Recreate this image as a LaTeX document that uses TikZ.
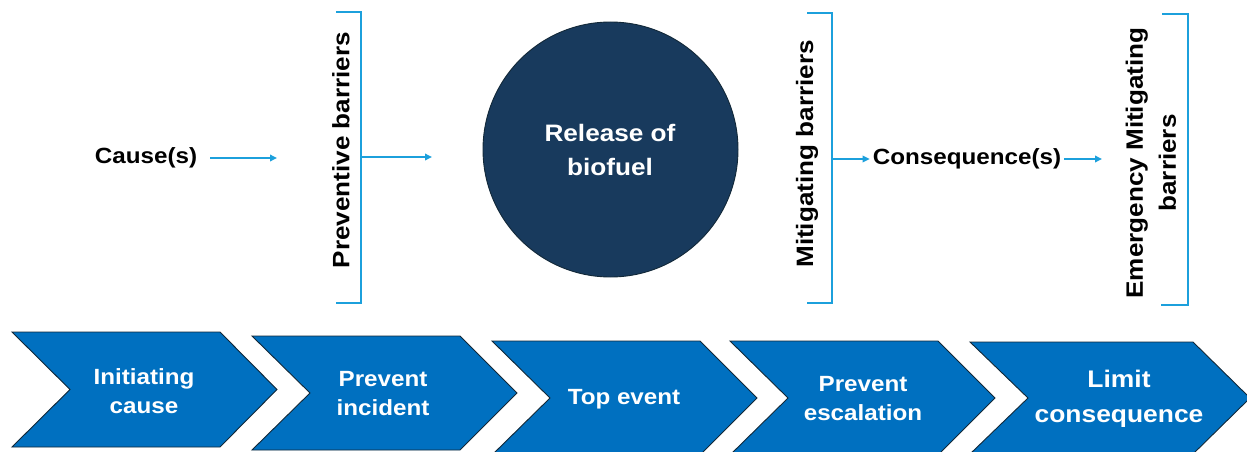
\documentclass[tikz,border=0pt]{standalone}
\usepackage{fontspec}
\setmainfont{Liberation Sans}[FakeStretch=1.1]
\usetikzlibrary{arrows.meta}
\definecolor{chevfill}{RGB}{0,112,192}
\definecolor{chevedge}{RGB}{18,40,56}
\definecolor{navy}{RGB}{24,58,93}
\definecolor{brkblue}{RGB}{28,160,220}
\newcommand\chevpath[4]{%
  \path[chevshape] (#1,#2) -- ({#1+#3-57},#2) -- ({#1+#3},{#2+#4/2}) -- ({#1+#3-57},{#2+#4}) -- (#1,{#2+#4}) -- ({#1+58},{#2+#4/2}) -- cycle;}
\tikzset{
  lbl/.style={font=\fontsize{22}{29}\selectfont\bfseries, text=black, inner sep=3pt},
  vlbl/.style={font=\fontsize{23.7}{33}\selectfont\bfseries, text=black, inner sep=3pt, rotate=90, align=center},
  wlbl/.style={font=\fontsize{22}{29}\selectfont\bfseries, text=white, align=center, inner sep=0pt},
  chevshape/.style={fill=chevfill, draw=chevedge, line width=0.9pt, line join=miter},
  bracket/.style={draw=brkblue, line width=2.5pt},
  arr/.style={draw=brkblue, line width=1.8pt, -{Triangle[length=7pt,width=6.5pt]}},
}
\begin{document}
\begin{tikzpicture}[x=1pt,y=-1pt]
\useasboundingbox (0,0) rectangle (1247,452);
\clip (0,0) rectangle (1247,452);

% top row
\node[lbl] (cause) at (146,158) {Cause(s)};
\coordinate (c1s) at (210,158);
\coordinate (c1e) at (277,158);
\draw[arr] (c1s) -- (c1e);

\node[vlbl] (prev) at (341,150) {Preventive barriers};
\coordinate (pbt) at (336,12);
\coordinate (pbb) at (336,303);
\coordinate (pbm) at (361,157);
\coordinate (pbe) at (432,157);
\draw[bracket] (pbt) -- (361,12) -- (361,303) -- (pbb);
\draw[arr] (pbm) -- (pbe);

\node[circle, fill=navy, draw=chevedge, line width=0.9pt, minimum size=255pt, inner sep=0pt] (top) at (610.5,149.5) {};
\node[wlbl, font=\fontsize{23.8}{34}\selectfont\bfseries] (toptext) at (610,150) {Release of\\biofuel};

\node[vlbl] (mitig) at (807,154) {Mitigating barriers};
\coordinate (mbt) at (807,13);
\coordinate (mbb) at (807,303);
\coordinate (mbm) at (832,159);
\draw[bracket] (mbt) -- (832,13) -- (832,303) -- (mbb);

\node[lbl] (cons) at (967,159) {Consequence(s)};
\draw[arr] (mbm) -- (cons.west);
\coordinate (c2e) at (1102,159);
\draw[arr] (cons.east) -- (c2e);

\node[vlbl] (emerg) at (1151,163) {Emergency Mitigating\\barriers};
\coordinate (ebt) at (1162,14);
\coordinate (ebb) at (1161,305);
\draw[bracket] (ebt) -- (1188,14) -- (1188,305) -- (ebb);

% chevrons
\chevpath{12}{332}{265}{115}
\chevpath{252}{336}{265}{114}
\chevpath{492}{341}{265}{114}
\chevpath{730}{341}{265}{114}
\chevpath{970}{342}{280}{112}

\node[wlbl] (ch1) at (144,391) {Initiating\\cause};
\node[wlbl] (ch2) at (383,394) {Prevent\\incident};
\node[wlbl] (ch3) at (624,399) {Top event};
\node[wlbl] (ch4) at (863,399) {Prevent\\escalation};
\node[wlbl, font=\fontsize{24}{35}\selectfont\bfseries] (ch5) at (1119,399) {Limit\\consequence};
\end{tikzpicture}
\end{document}
